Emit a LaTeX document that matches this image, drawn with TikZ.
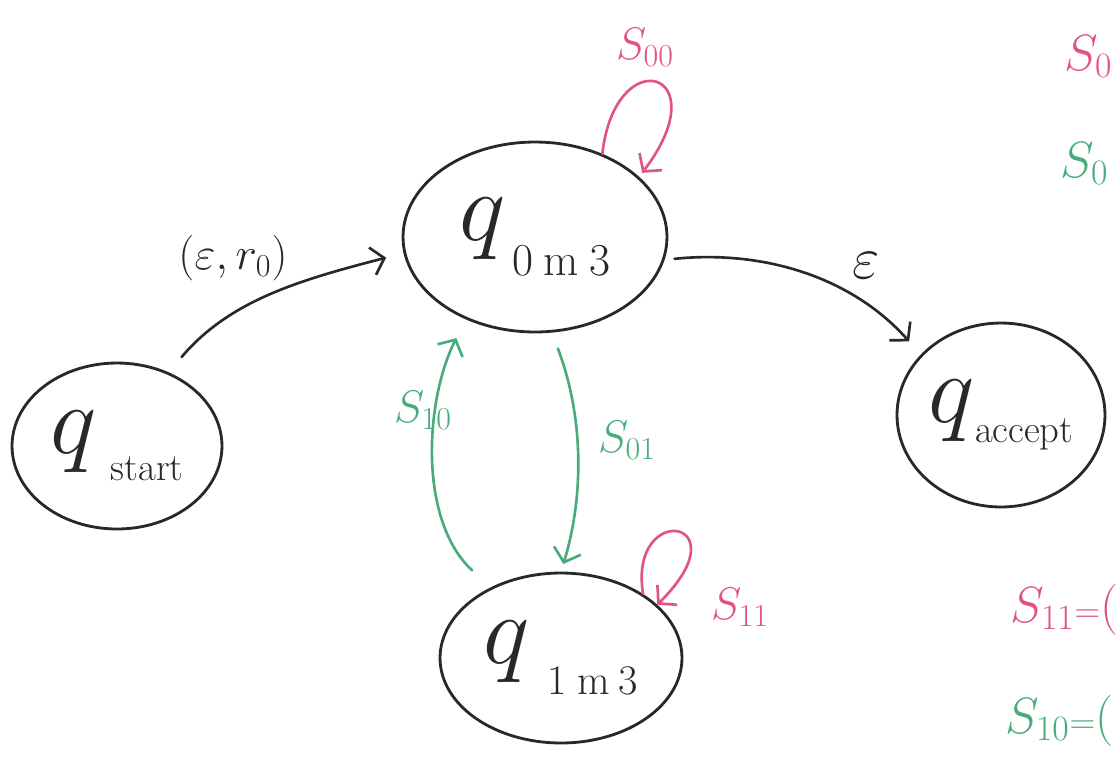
\RequirePackage{fix-cm}
\documentclass[tikz,border=0pt]{standalone}
\usetikzlibrary{shapes.geometric,arrows.meta}
\definecolor{ink}{RGB}{40,40,40}
\definecolor{pinkink}{RGB}{226,84,128}
\definecolor{greenink}{RGB}{72,172,122}
\newcommand\qlab[4]{{\fontsize{56}{56}\selectfont$q$}\hspace{#1}\raisebox{-#2}{\fontsize{#3}{#3}\selectfont #4}}
\begin{document}
\begin{tikzpicture}[x=0.02cm,y=-0.02cm,
  state/.style={ellipse,draw=ink,line width=1.6pt,inner sep=0pt,text=ink},
  tip/.style={-{Straight Barb[length=7pt,width=16pt]}},
  blackedge/.style={draw=ink,line width=1.5pt,line cap=round,tip},
  pinkedge/.style={draw=pinkink,line width=1.5pt,line cap=round,tip},
  greenedge/.style={draw=greenink,line width=1.5pt,line cap=round,tip},
  lab/.style={inner sep=0pt,font=\fontsize{26}{26}\selectfont},
  side/.style={inner sep=0pt,font=\fontsize{29}{29}\selectfont}]
\fill[white] (0,0) rectangle (1119,762);
\useasboundingbox (0,0) rectangle (1119,762);

% states
\node[state,minimum width=4.2cm,minimum height=3.32cm] (qs) at (117,446) {\qlab{8pt}{15pt}{22}{start}};
\node[state,minimum width=5.28cm,minimum height=3.8cm] (q0) at (535,237) {\qlab{4pt}{20pt}{26}{0\hspace{6pt}m\hspace{6pt}3}};
\node[state,minimum width=4.16cm,minimum height=3.68cm] (qa) at (1001,415) {\qlab{0pt}{11pt}{22}{accept}};
\node[state,minimum width=4.84cm,minimum height=3.4cm] (q1) at (561,658) {\qlab{10pt}{18pt}{24}{1\hspace{6pt}m\hspace{5pt}3}};

% black edges
\draw[blackedge,shorten <=0.4cm,shorten >=0.36cm] (qs.55) .. controls (230,300) and (300,280) .. (q0.187);
\draw[blackedge,shorten <=0.2cm,shorten >=0.35cm] (q0.-10) .. controls (760,250) and (850,275) .. (qa.143);

% self loops
\draw[pinkedge,shorten >=0.1cm] (q0.51) .. controls (615,40) and (720,70) .. (q0.30);
\draw[pinkedge] (q1.38) .. controls (628,500) and (745,518) .. (q1.29);

% green edges
\draw[greenedge,shorten <=0.34cm,shorten >=0.16cm] (q0.-80) .. controls (585,420) and (583,500) .. (q1.90);
\draw[greenedge,shorten <=0.5cm,shorten >=0.42cm] (q1.135) .. controls (418,520) and (425,400) .. (q0.-130);

% edge labels
\node[lab,text=ink] (lstart) at (233,258) {$(\varepsilon,r_0)$};
\node[inner sep=0pt,text=ink,font=\fontsize{34}{34}\selectfont] (leps) at (866,266) {$\varepsilon$};
\node[lab,text=pinkink] (l00) at (645,47) {$S_{00}$};
\node[lab,text=greenink] (l10) at (423,410) {$S_{10}$};
\node[lab,text=greenink] (l01) at (627,440) {$S_{01}$};
\node[lab,text=pinkink] (l11) at (740,607) {$S_{11}$};

% notes at the right edge
\node[side,text=pinkink,anchor=base west] (r00) at (1064,70) {$S_{0}$};
\node[side,text=greenink,anchor=base west] (r01) at (1060,177) {$S_{0}$};
\node[side,text=pinkink,anchor=base west] (r11) at (1010,622) {$S_{11}{\scriptstyle=}($};
\node[side,text=greenink,anchor=base west] (r10) at (1005,733) {$S_{10}{\scriptstyle=}($};
\end{tikzpicture}
\end{document}
